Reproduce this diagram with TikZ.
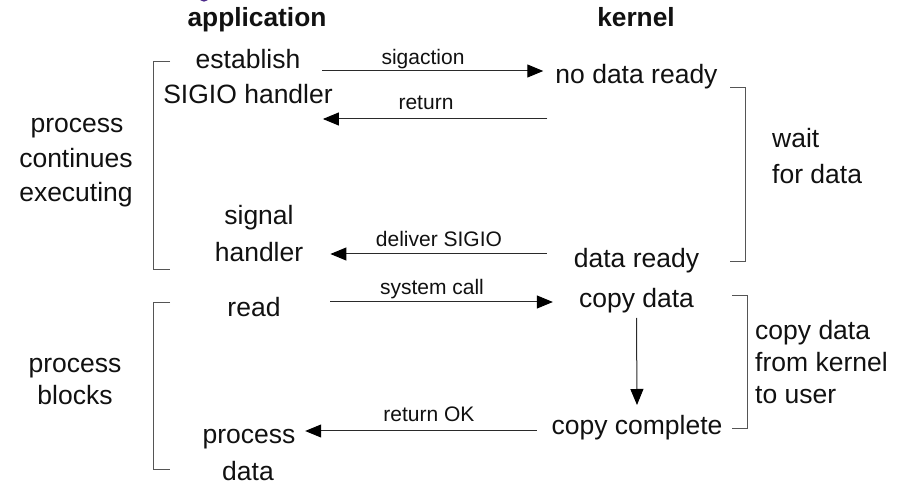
\documentclass[tikz,border=0pt]{standalone}
\usepackage{fontspec}
\setmainfont{Liberation Sans}
\usetikzlibrary{arrows.meta}
\definecolor{ink}{HTML}{111111}
\definecolor{wire}{HTML}{2A2A2A}
\definecolor{brace}{HTML}{555555}
\definecolor{blob}{HTML}{4B2A8A}
\begin{document}
\begin{tikzpicture}[x=1pt,y=-1pt,
  txt/.style={inner sep=0pt,anchor=base,text=ink,font=\fontsize{26.5}{32}\selectfont},
  ltxt/.style={txt,anchor=base west},
  head/.style={txt,font=\fontsize{26.3}{32}\selectfont\bfseries},
  lbl/.style={inner sep=0pt,anchor=base,text=ink,font=\fontsize{21}{25}\selectfont},
  arr/.style={draw=wire,line width=1pt,-{Triangle[length=16pt,width=13pt,color=black]}},
  bracket/.style={draw=brace,line width=1pt}]
\useasboundingbox (0,0) rectangle (911,486);
\fill[white] (0,0) rectangle (911,486);
\begin{scope}
  \clip (0,0) rectangle (911,486);
  \fill[blob] (204,-3.85) circle (5.55);
\end{scope}

% column headings
\node[head] (app) at (257,27) {application};
\node[head] (ker) at (636,27) {kernel};

% application side
\node[txt] (est) at (248,69) {establish};
\node[txt] (sigh) at (248,104) {SIGIO handler};
\node[txt] (sig) at (259,225) {signal};
\node[txt] (hnd) at (259,262) {handler};
\node[txt] (rd) at (254,317) {read};
\node[txt] (pd1) at (249,443) {process};
\node[txt] (pd2) at (248,480) {data};

% process state on the left
\node[txt] (pc1) at (77,133) {process};
\node[txt] (pc2) at (76,168) {continues};
\node[txt] (pc3) at (76,202) {executing};
\node[txt] (pb1) at (75,373) {process};
\node[txt] (pb2) at (75,405) {blocks};

% kernel side
\node[txt] (nd) at (636.5,84) {no data ready};
\node[txt] (dr) at (636.5,268) {data ready};
\node[txt] (cd) at (636.5,308) {copy data};
\node[txt] (cc) at (637,435) {copy complete};

% kernel phases on the right
\node[ltxt] (w1) at (772,148) {wait};
\node[ltxt] (w2) at (772,184) {for data};
\node[ltxt] (k1) at (755,340) {copy data};
\node[ltxt] (k2) at (755,372) {from kernel};
\node[ltxt] (k3) at (755,404) {to user};

% brackets
\draw[bracket] (170,62) -- (153,62) -- (153,270) -- (170,270);
\draw[bracket] (170,303) -- (153,303) -- (153,469) -- (170,469);
\draw[bracket] (730,88) -- (745,88) -- (745,262) -- (730,262);
\draw[bracket] (732,296) -- (747,296) -- (747,429) -- (732,429);

% calls and returns
\draw[arr] ([xshift=22pt,yshift=-2pt]est.base east) -- ([xshift=-12pt,yshift=13pt]nd.base west);
\node[lbl] (l1) at (423,65) {sigaction};
\draw[arr] ([xshift=-8pt,yshift=-35pt]nd.base west) -- ([xshift=-10pt,yshift=-15pt]sigh.base east);
\node[lbl] (l2) at (426,110) {return};
\draw[arr] ([xshift=-27pt,yshift=14pt]dr.base west) -- ([xshift=27pt,yshift=8pt]hnd.base east);
\node[lbl] (l3) at (439,247) {deliver SIGIO};
\draw[arr] ([xshift=49.5pt,yshift=15pt]rd.base east) -- ([xshift=-26pt,yshift=6pt]cd.base west);
\node[lbl] (l4) at (432,295) {system call};
\draw[arr] ([yshift=-10pt]cd.base) -- ([yshift=30pt]cc.base);
\draw[arr] ([xshift=-14.6pt,yshift=4pt]cc.base west) -- ([xshift=9.6pt,yshift=12pt]pd1.base east);
\node[lbl] (l5) at (429,422) {return OK};
\end{tikzpicture}
\end{document}
